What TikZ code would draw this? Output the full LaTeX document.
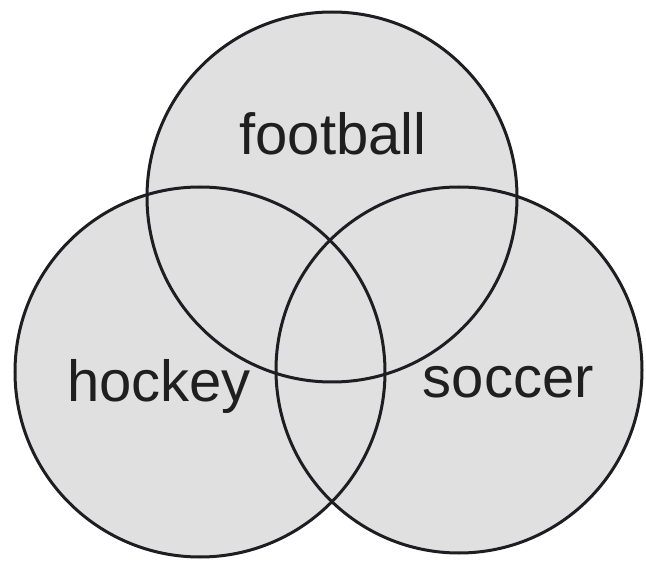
\documentclass[tikz,border=0pt]{standalone}
\usepackage{fontspec}
\setmainfont{Liberation Sans}
\definecolor{fillgray}{HTML}{E0E0E0}
\definecolor{edge}{HTML}{1E1E22}
\begin{document}
\begin{tikzpicture}[x=1pt,y=-1pt,
  setfill/.style={fill=fillgray},
  setedge/.style={draw=edge,line width=3pt},
  lbl/.style={font=\fontsize{58}{60}\selectfont,text=black!88,inner sep=0pt}]
\useasboundingbox (0,0) rectangle (646,564);
\coordinate (cf) at (332,197);
\coordinate (ch) at (200,372);
\coordinate (cs) at (459,370);
\fill[setfill] (cf) circle[radius=185];
\fill[setfill] (ch) circle[radius=185];
\fill[setfill] (cs) circle[radius=183];
\draw[setedge] (cf) circle[radius=185];
\draw[setedge] (ch) circle[radius=185];
\draw[setedge] (cs) circle[radius=183];
\node[lbl,anchor=base] (football) at (333,155) {football};
\node[lbl,anchor=base west] (hockey) at (67,402) {hockey};
\node[lbl,anchor=base east] (soccer) at (594,398) {soccer};
\end{tikzpicture}
\end{document}
